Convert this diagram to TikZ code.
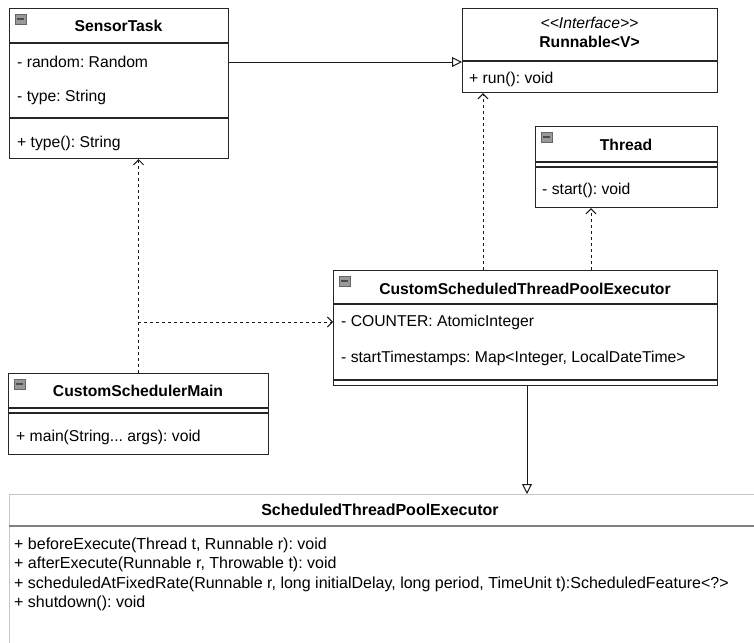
\documentclass[tikz,border=0pt]{standalone}
\usepackage{fontspec}
\setmainfont{Liberation Sans}
\usetikzlibrary{arrows.meta,calc}
\frenchspacing
\tikzset{
  box/.style={draw=black!85, line width=1.1pt, fill=white, anchor=north west, inner sep=0pt},
  lightbox/.style={draw=black!22, line width=1.1pt, fill=white, anchor=north west, inner sep=0pt},
  sep/.style={draw=black!85, line width=1.1pt},
  attr/.style={anchor=west, inner sep=0pt, font=\fontsize{15.7}{18}\selectfont},
  battr/.style={anchor=west, inner sep=0pt, font=\fontsize{16}{18}\selectfont},
  head/.style={inner sep=0pt, font=\fontsize{15.7}{18}\selectfont\bfseries},
  ital/.style={inner sep=0pt, font=\fontsize{15.7}{18}\selectfont\itshape},
  dep/.style={draw=black!90, line width=1pt, dash pattern=on 3pt off 3pt,
    -{Straight Barb[length=5pt,width=10pt,line width=1pt]}},
  gen/.style={draw=black!90, line width=1pt,
    -{Triangle[open,length=10pt,width=10pt,line width=1pt,fill=white]}},
  minusicon/.pic={
    \draw[fill=black!40, draw=black!60, line width=0.5pt] (0,0) rectangle (11,10);
    \draw[draw=black!70, line width=1.6pt] (2,5) -- (9,5);
  }
}
\begin{document}
\begin{tikzpicture}[x=1pt, y=-1pt]
\useasboundingbox[fill=white] (0,0) rectangle (754,642);

% ---------------- SensorTask
\node[box, minimum width=219pt, minimum height=150pt] (sensor) at (9,8) {};
\pic at ($(sensor.north west)+(6,6)$) {minusicon};
\node[head] (sensorT) at (118.5,26) {SensorTask};
\draw[sep] (sensor.west |- 0,43) -- (sensor.east |- 0,43);
\node[attr] (sensorA1) at (17,62) {- random: Random};
\node[attr] (sensorA2) at (17,97) {- type: String};
\draw[sep] (sensor.west |- 0,118) -- (sensor.east |- 0,118);
\node[attr] (sensorM1) at (17,143) {+ type(): String};

% ---------------- Runnable
\node[box, minimum width=255pt, minimum height=84pt] (runnable) at (462,8) {};
\node[ital] (runI) at (589.5,23) {<\kern0pt<Interface>\kern0pt>};
\node[head] (runT) at (589.5,42) {Runnable<V>};
\draw[sep] (runnable.west |- 0,61) -- (runnable.east |- 0,61);
\node[attr] (runM1) at (469,79) {+ run(): void};

% ---------------- Thread
\node[box, minimum width=182pt, minimum height=81pt] (thread) at (535,126) {};
\pic at ($(thread.north west)+(6,6)$) {minusicon};
\node[head] (threadT) at (626,145) {Thread};
\draw[sep] (thread.west |- 0,162) -- (thread.east |- 0,162);
\draw[sep] (thread.west |- 0,167) -- (thread.east |- 0,167);
\node[attr] (threadM1) at (542,190) {- start(): void};

% ---------------- CustomScheduledThreadPoolExecutor
\node[box, minimum width=384pt, minimum height=115pt] (cstpe) at (333,270) {};
\pic at ($(cstpe.north west)+(6,6)$) {minusicon};
\node[head] (cstpeT) at (525,289) {CustomScheduledThreadPoolExecutor};
\draw[sep] (cstpe.west |- 0,304) -- (cstpe.east |- 0,304);
\node[attr] (cstpeA1) at (341,322) {- COUNTER: AtomicInteger};
\node[attr] (cstpeA2) at (341,358) {- startTimestamps: Map<Integer, LocalDateTime>};
\draw[sep] (cstpe.west |- 0,380) -- (cstpe.east |- 0,380);

% ---------------- CustomSchedulerMain
\node[box, minimum width=260pt, minimum height=81pt] (main) at (8,373) {};
\pic at ($(main.north west)+(6,6)$) {minusicon};
\node[head] (mainT) at (138,391) {CustomSchedulerMain};
\draw[sep] (main.west |- 0,408) -- (main.east |- 0,408);
\draw[sep] (main.west |- 0,413) -- (main.east |- 0,413);
\node[attr] (mainM1) at (16,437) {+ main(String... args): void};

% ---------------- ScheduledThreadPoolExecutor
\node[lightbox, minimum width=760pt, minimum height=220pt] (stpe) at (9,494) {};
\node[head, font=\fontsize{16}{18}\selectfont\bfseries] (stpeT) at (380,510) {ScheduledThreadPoolExecutor};
\draw[draw=black!50, line width=1.1pt] (stpe.west |- 0,526) -- (stpe.east |- 0,526);
\node[battr] (stpeM1) at (14,545) {+ beforeExecute(Thread t, Runnable r): void};
\node[battr] (stpeM2) at (14,564) {+ afterExecute(Runnable r, Throwable t): void};
\node[battr] (stpeM3) at (14,584) {+ scheduledAtFixedRate(Runnable r, long initialDelay, long period, TimeUnit t):ScheduledFeature<?>};
\node[battr] (stpeM4) at (14,603) {+ shutdown(): void};

% ---------------- connectors
\coordinate (br) at (138,322);
\draw[gen] (sensor.east |- 0,62) -- (runnable.west |- 0,62);
\draw[dep] (cstpe.north -| 483,0) -- (runnable.south -| 483,0);
\draw[dep] (cstpe.north -| 591,0) -- (thread.south -| 591,0);
\draw[dep] (main.north) -- (sensor.south -| main.north);
\draw[dep] (br) -- (cstpe.west |- br);
\draw[gen] (cstpe.south -| 527,0) -- (stpe.north -| 527,0);
\end{tikzpicture}
\end{document}
